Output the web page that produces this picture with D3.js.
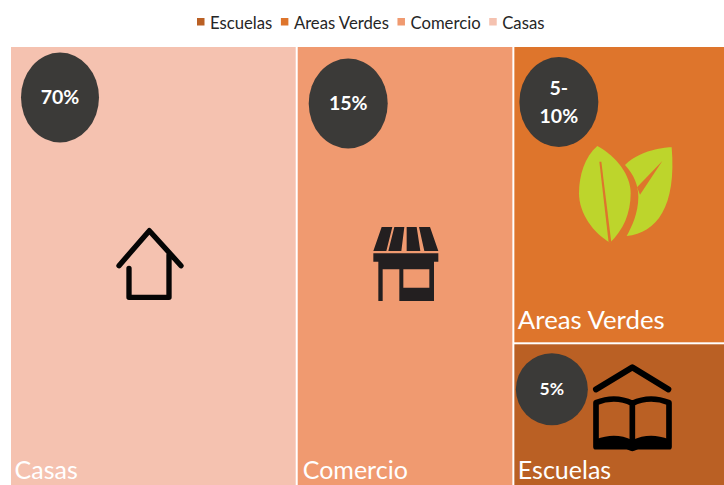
<!DOCTYPE html>
<html><head><meta charset="utf-8">
<script src="https://cdn.jsdelivr.net/npm/d3@7"></script>
<style>html,body{margin:0;padding:0;background:#fff}svg{display:block}text{font-family:Lato,"Open Sans",sans-serif}</style>
</head><body><svg id="c" width="724" height="485"></svg>
<script>
const legendOrder = ["Escuelas","Areas Verdes","Comercio","Casas"];
const categories = ["Casas","Comercio","Areas Verdes","Escuelas"];
const sizes = [40.1,30.3,20.0,9.6];
const shareLabels = [["70%"],["15%"],["5-","10%"],["5%"]];
const colors = ["#F5C2B0","#F09A70","#DE752C","#BA6024"];

const svg = d3.select("#c");
const W=724,H=485;
const sizeOf = Object.fromEntries(categories.map((c,i)=>[c,sizes[i]]));
const root = d3.hierarchy({name:"root",children:[
  {name:"Casas",value:sizeOf["Casas"]},
  {name:"Comercio",value:sizeOf["Comercio"]},
  {name:"right",children:[{name:"Areas Verdes",value:sizeOf["Areas Verdes"]},{name:"Escuelas",value:sizeOf["Escuelas"]}]}
]}).sum(d=>d.value||0);
d3.treemap()
  .tile((node,x0,y0,x1,y1)=>(node.depth===0?d3.treemapDice:d3.treemapSlice)(node,x0,y0,x1,y1))
  .paddingInner(2).size([W-11,H-47])(root);

const color = d3.scaleOrdinal(categories,colors);
const plot = svg.append("g").attr("transform","translate(11,47)");
const leaves = root.leaves().sort((a,b)=>categories.indexOf(a.data.name)-categories.indexOf(b.data.name));
const cell = plot.selectAll("g.cell").data(leaves).join("g").attr("class","cell")
  .attr("transform",d=>`translate(${d.x0},${d.y0})`);
cell.append("rect").attr("width",d=>d.x1-d.x0).attr("height",d=>d.y1-d.y0).attr("fill",d=>color(d.data.name));
const labelGap = {"Casas":6,"Comercio":6,"Areas Verdes":13,"Escuelas":6};
cell.append("text").attr("x",d=>d.data.name==="Comercio"?5:3.5).attr("y",d=>d.y1-d.y0-labelGap[d.data.name]).attr("fill","#fff").attr("font-size",d=>d.data.name==="Areas Verdes"?25.8:25)
  .text(d=>d.data.name);

const badge = {"Casas":{cx:49,cy:50.5,rx:39,ry:45,fs:19.5},"Comercio":{cx:50.5,cy:56.5,rx:39.5,ry:45,fs:19.5},
 "Areas Verdes":{cx:44.5,cy:55,rx:39.5,ry:45,fs:19.5},"Escuelas":{cx:37.5,cy:45,rx:36,ry:36,fs:17.5}};
cell.append("ellipse").each(function(d){const b=badge[d.data.name];d3.select(this).attr("cx",b.cx).attr("cy",b.cy).attr("rx",b.rx).attr("ry",b.ry);}).attr("fill","#3B3A38");
cell.each(function(d){
  const b=badge[d.data.name], lines=shareLabels[categories.indexOf(d.data.name)];
  const g=d3.select(this);
  lines.forEach((t,i)=>g.append("text").attr("x",b.cx).attr("y",b.cy+(i-(lines.length-1)/2)*28+b.fs*0.35)
    .attr("text-anchor","middle").attr("fill","#fff").attr("font-weight",700).attr("font-size",b.fs).text(t));
});

const ink="#050505";
function icon(x,y){return svg.append("g").attr("transform",`translate(${x},${y}) scale(${1/3})`);}
icon(105,220).append("path").attr("d","M42 137L133 32L228 137M192 105V232H72V145")
  .attr("fill","none").attr("stroke",ink).attr("stroke-width",16).attr("stroke-linecap","round").attr("stroke-linejoin","round");
const shop=icon(360,215);
shop.append("path").attr("fill","#231F20").attr("fill-rule","evenodd").attr("d",
 "M65 36H97L79 108H40Z M103 36H133L124 108H85Z M140 36H170L181 108H140Z M177 36H210L235 108H193Z"+
 "M40 115H235V140H222V258H118V163H68V258H55V140H40Z M130 163H208V218H130Z");
const leaf=icon(510,50), bg=colors[2];
leaf.append("path").attr("fill","#BDD52C").attr("d","M485 292C485 292 400 292 345 345C372 375 385 405 385 440C385 490 365 530 350 558C440 550 500 470 485 292Z");
leaf.append("path").attr("fill",bg).attr("d","M457 333L381 412L390 434Z");
leaf.append("path").attr("fill","#BDD52C").attr("d","M262 288C225 320 207 375 207 430C207 490 250 550 300 578C340 540 362 490 362 430C362 375 320 320 262 288Z");
leaf.append("path").attr("fill",bg).attr("d","M268 335L274 335L304 578L296 578Z");
const book=icon(510,340);
book.append("path").attr("d","M258 148L367 82L475 148").attr("fill","none").attr("stroke","#000").attr("stroke-width",18).attr("stroke-linecap","round").attr("stroke-linejoin","round");
book.append("path").attr("d","M258 188Q315 165 367 190Q420 165 477 188V320H258Z M367 190V325").attr("fill","none").attr("stroke","#000").attr("stroke-width",17).attr("stroke-linejoin","round");
book.append("path").attr("d","M258 322V298Q315 275 367 300Q420 275 477 298V322H390Q367 345 344 322Z").attr("fill","#000");

const legend=svg.append("g");
let lx=197;
legendOrder.forEach(name=>{
  legend.append("rect").attr("x",lx).attr("y",18).attr("width",7.5).attr("height",7.5).attr("fill",color(name));
  const t=legend.append("text").attr("x",lx+13).attr("y",28.5).attr("fill","#262626").attr("font-size",16.7).text(name);
  lx+=13+t.node().getComputedTextLength()+8.6;
});
</script></body></html>
